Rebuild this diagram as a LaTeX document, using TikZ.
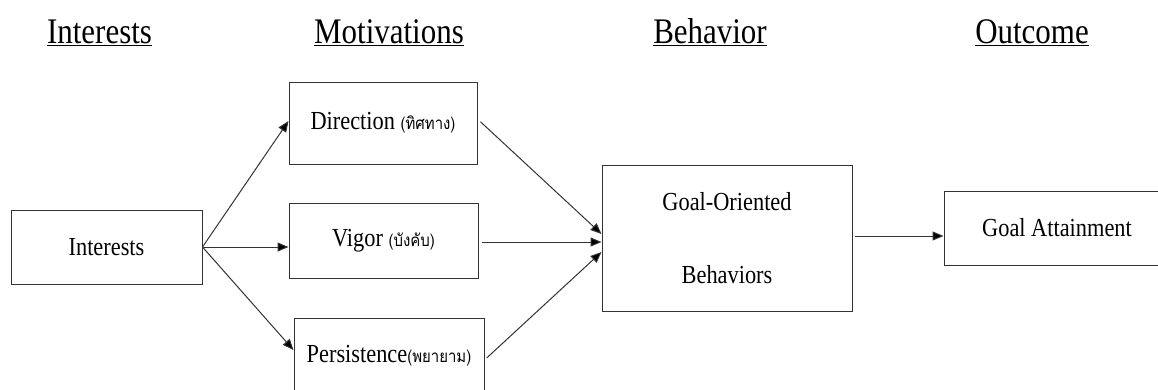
\documentclass[tikz,border=0pt]{standalone}
\usepackage{fontspec}
\setmainfont{Liberation Serif}[FakeStretch=0.86]
\newfontfamily\thaifont[Script=Thai, FakeStretch=0.88]{Loma}
\usetikzlibrary{arrows.meta}

\newcommand{\thaisize}{\thaifont\fontsize{17}{20}\selectfont}

\begin{document}
\begin{tikzpicture}[x=1pt, y=-1pt]
	\tikzstyle{block} = [rectangle, draw=black!80, line width=1pt, fill=white, inner sep=0pt, font=\fontsize{26}{30}\selectfont]
	\tikzstyle{head}  = [anchor=base, font=\fontsize{36}{40}\selectfont]
	\tikzstyle{link}  = [-{Triangle[length=11pt, width=9pt, fill=black]}, draw=black!80, line width=1pt]

	\useasboundingbox (0, 0) rectangle (1158, 389);
	\clip (0, 0) rectangle (1158, 389);

	% column titles
	\foreach \name/\word/\x in {hint/Interests/99.5, hmot/Motivations/389, hbeh/Behavior/710, hout/Outcome/1032}
		\node[head] (\name) at (\x, 43) {\underline{\word}};

	\node[block, minimum width=191pt, minimum height=74pt] (inter) at (106.5, 247) {Interests};

	\node[block, minimum width=188pt, minimum height=82pt] (dir) at (383, 123) {Direction {\thaisize(ทิศทาง)}};
	\node[block, minimum width=189pt, minimum height=75pt] (vig) at (383.5, 240.5) {Vigor {\thaisize(บังคับ)}};
	\node[block, minimum width=190pt, minimum height=76pt] (pers) at (389, 356) {Persistence{\thaisize(พยายาม)}};

	\node[block, minimum width=250pt, minimum height=146pt, align=center, font=\fontsize{26}{73}\selectfont] (goal) at (727, 238) {Goal-Oriented\\Behaviors};
	\node[block, minimum width=226pt, minimum height=74pt] (att) at (1057, 228) {Goal Attainment};

	\draw[link] (inter.east) -- ([yshift=2pt]dir.west);
	\draw[link] (inter.east) -- (inter.east -| vig.west);
	\draw[link] (inter.east) -- ([yshift=6pt]pers.west);

	\draw[link, shorten <=4pt] ([yshift=4pt]dir.east) -- ([yshift=4pt]goal.west);
	\draw[link, shorten <=3pt] ([yshift=-1.5pt]vig.east) -- ([yshift=-1.5pt]vig.east -| goal.west);
	\draw[link, shorten <=3pt] ([yshift=-4pt]pers.east) -- ([yshift=-14pt]goal.west);

	\draw[link, shorten <=2pt] ([yshift=2pt]goal.east) -- ([yshift=2pt]goal.east -| att.west);
\end{tikzpicture}
\end{document}
